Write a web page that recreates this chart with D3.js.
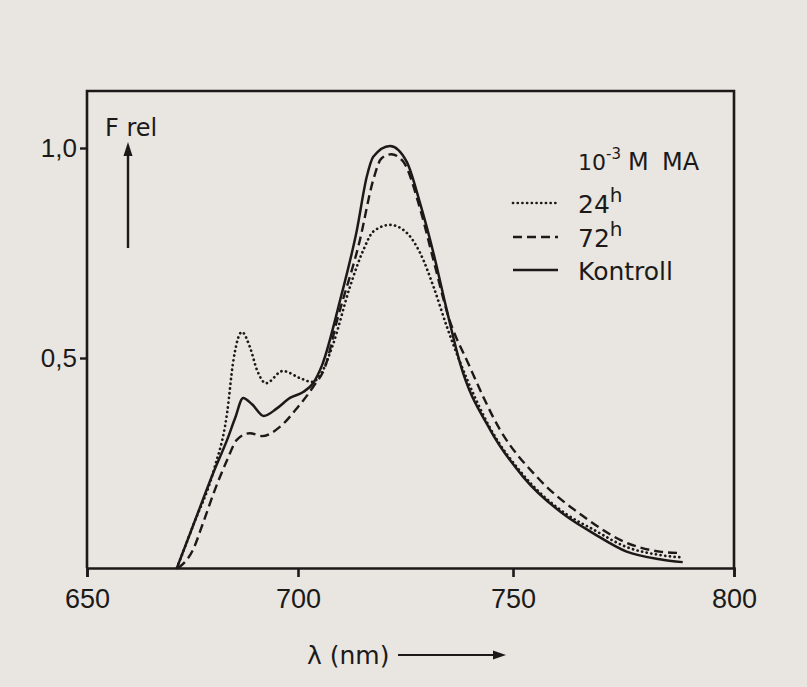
<!DOCTYPE html>
<html>
<head>
<meta charset="utf-8">
<script src="https://cdn.jsdelivr.net/npm/d3@7"></script>
<style>
  body { margin: 0; background: #e9e5e0; }
  svg { display: block; }
</style>
</head>
<body>
<svg id="svg" width="807" height="687"></svg>
<script>
  // axis ticks
  const tickNm = [650, 700, 750, 800];
  const tickF = [0.5, 1.0];

  // Kontroll (solid)
  const kontrollNm = [671.3, 675.1, 680.1, 683.2, 685.1, 687.0, 689.1, 691.9, 695.0, 698.1,
    701.2, 703.5, 705.6, 709.8, 713.7, 716.0, 717.5, 721.4, 725.3, 728.4,
    731.5, 734.6, 737.7, 744.7, 752.3, 762.1, 768.1, 775.7, 783.2, 788.4];
  const kontrollF = [0, 0.10, 0.231, 0.305, 0.357, 0.405, 0.39, 0.362, 0.38, 0.405,
    0.419, 0.44, 0.483, 0.638, 0.805, 0.932, 0.979, 1.005, 0.967, 0.868,
    0.75, 0.614, 0.487, 0.329, 0.217, 0.123, 0.083, 0.039, 0.021, 0.014];

  // 72h (dashed)
  const h72Nm = [671.6, 675.1, 677.5, 680.3, 683.2, 685.5, 688.6, 691.5, 695.7, 699.8,
    703.5, 706.3, 709.1, 714.4, 717.5, 719.4, 721.7, 724.5, 728.4, 731.5,
    735.0, 739.6, 747.0, 755.4, 765.9, 775.7, 783.2, 787.2];
  const h72F = [0, 0.043, 0.107, 0.186, 0.257, 0.305, 0.321, 0.314, 0.336, 0.381,
    0.431, 0.479, 0.59, 0.781, 0.924, 0.975, 0.985, 0.967, 0.855, 0.733,
    0.598, 0.487, 0.329, 0.217, 0.123, 0.060, 0.039, 0.036];

  // 24h (dotted)
  const h24Nm = [671.3, 675.1, 680.1, 683.2, 684.6, 686.7, 688.6, 690.3, 692.4, 696.4,
    700.5, 703.3, 705.6, 708.1, 712.1, 715.2, 717.5, 721.4, 725.3, 728.4,
    731.5, 734.6, 737.7, 744.7, 752.3, 762.1, 768.1, 775.7, 783.2, 788.4];
  const h24F = [0, 0.10, 0.235, 0.369, 0.488, 0.562, 0.526, 0.471, 0.44, 0.469,
    0.452, 0.443, 0.467, 0.531, 0.67, 0.757, 0.801, 0.817, 0.798, 0.75,
    0.67, 0.575, 0.49, 0.333, 0.222, 0.128, 0.092, 0.05, 0.031, 0.025];

  const ink = "#1c1a19";
  const svg = d3.select("#svg");

  // hand drawn axis: tick marks not quite evenly spaced
  const x = d3.scaleLinear().domain(tickNm).range([87, 298, 513, 734]);
  const y = d3.scaleLinear().domain([0, 1]).range([568, 148]);
  const frameTop = 91;

  // frame
  svg.append("path")
    .attr("d", "M" + x(650) + "," + y(0) + "V" + frameTop + "H" + x(800) + "V" + y(0))
    .attr("fill", "none").attr("stroke", ink).attr("stroke-width", 2.6);

  const gx = svg.append("g")
    .attr("transform", "translate(0," + y(0) + ")")
    .call(d3.axisBottom(x).tickValues(tickNm).tickSize(9).tickPadding(12)
      .tickFormat(d3.format("d")));
  gx.select(".domain").attr("stroke", ink).attr("stroke-width", 2.6);
  gx.selectAll(".tick line").attr("stroke", ink).attr("stroke-width", 2.6);
  gx.selectAll("text").attr("fill", ink)
    .style("font-family", "Liberation Sans").style("font-size", "27px");

  const gy = svg.append("g")
    .attr("transform", "translate(" + x(650) + ",0)")
    .call(d3.axisLeft(y).tickValues(tickF).tickSize(7).tickPadding(3)
      .tickFormat(d => d3.format(".1f")(d).replace(".", ",")));
  gy.select(".domain").remove();
  gy.selectAll(".tick line").attr("stroke", ink).attr("stroke-width", 2.4);
  gy.selectAll("text").attr("fill", ink)
    .style("font-family", "Liberation Sans").style("font-size", "26px");

  // curves
  const series = [
    { nm: h24Nm, f: h24F, dash: "0.1 4.6", w: 2.7, cap: "round" },
    { nm: h72Nm, f: h72F, dash: "9 5", w: 2.4, cap: "butt" },
    { nm: kontrollNm, f: kontrollF, dash: null, w: 2.5, cap: "butt" }
  ];
  const line = d3.line()
    .x(d => x(d[0])).y(d => y(d[1]))
    .curve(d3.curveMonotoneX);

  svg.selectAll(".curve").data(series).enter().append("path")
    .attr("class", "curve")
    .attr("d", s => line(s.nm.map((v, i) => [v, s.f[i]])))
    .attr("fill", "none")
    .attr("stroke", ink)
    .attr("stroke-width", s => s.w)
    .attr("stroke-linecap", s => s.cap)
    .attr("stroke-dasharray", s => s.dash);

  // F rel label and arrow
  const font = "DejaVu Sans";
  svg.append("text").attr("x", 105).attr("y", 136)
    .style("font-family", font).style("font-size", "24px").attr("fill", ink)
    .text("F rel");
  svg.append("line").attr("x1", 128).attr("x2", 128).attr("y1", 248).attr("y2", 152)
    .attr("stroke", ink).attr("stroke-width", 2.4);
  svg.append("path").attr("d", "M128,142 L123.5,156 L132.5,156 Z").attr("fill", ink);

  // x label and arrow
  svg.append("text").attr("x", 307).attr("y", 664)
    .style("font-family", font).style("font-size", "25px").attr("fill", ink)
    .text("λ (nm)");
  svg.append("line").attr("x1", 398).attr("x2", 496).attr("y1", 655).attr("y2", 655)
    .attr("stroke", ink).attr("stroke-width", 2.2);
  svg.append("path").attr("d", "M506,655 L493,650.5 L493,659.5 Z").attr("fill", ink);

  // legend
  const lg = svg.append("g").style("font-family", font).attr("fill", ink);
  const title = lg.append("text").attr("y", 170).style("font-size", "24px");
  title.append("tspan").attr("x", 578).style("font-size", "22px").text("10");
  title.append("tspan").attr("dy", -11).style("font-size", "15px").text("-3");
  title.append("tspan").attr("x", 628).attr("dy", 11).text("M");
  title.append("tspan").attr("x", 662).text("MA");

  const legendRows = [
    { label: "24", sup: "h", y: 203, s: series[0] },
    { label: "72", sup: "h", y: 237, s: series[1] },
    { label: "Kontroll", sup: "", y: 270, s: series[2] }
  ];
  legendRows.forEach(r => {
    lg.append("line").attr("x1", 513).attr("x2", 558).attr("y1", r.y).attr("y2", r.y)
      .attr("stroke", ink).attr("stroke-width", r.s.w)
      .attr("stroke-linecap", r.s.cap).attr("stroke-dasharray", r.s.dash);
    const t = lg.append("text").attr("x", 578).attr("y", r.y + 10).style("font-size", "25px");
    t.append("tspan").text(r.label);
    if (r.sup) t.append("tspan").attr("dy", -11).style("font-size", "20px").text(r.sup);
  });
</script>
</body>
</html>
